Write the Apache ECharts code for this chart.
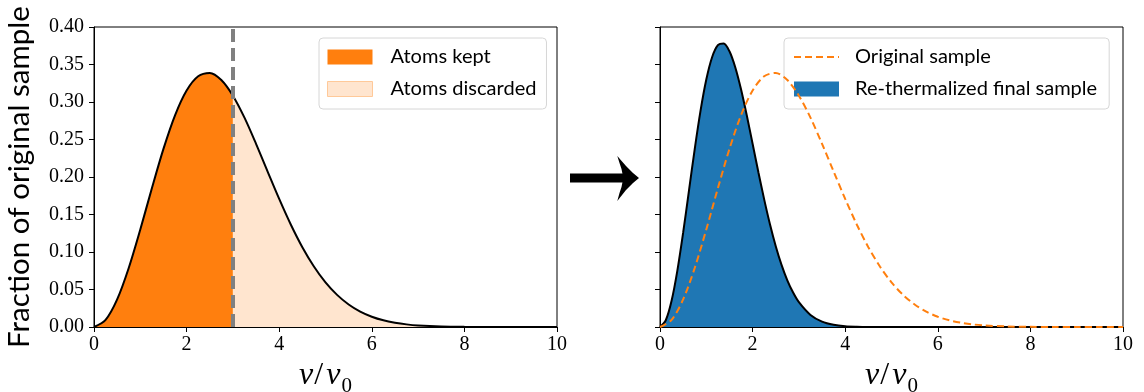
<!DOCTYPE html>
<html><head><meta charset="utf-8">
<script src="https://cdn.jsdelivr.net/npm/echarts@6/dist/echarts.min.js"></script>
<style>html,body{margin:0;padding:0;background:#fff}#chart{width:1144px;height:392px}</style>
</head><body><div id="chart"></div>
<script>
// ---- data ----
const speedGrid = [0,0.25,0.5,0.75,1,1.25,1.5,1.75,2,2.25,2.5,2.75,3,3.25,3.5,3.75,4,4.25,4.5,4.75,5,5.25,5.5,5.75,6,6.25,6.5,6.75,7,7.5,8,8.5,9,9.5,10];
const originalFraction = [0,0.0095,0.0368,0.0787,0.1300,0.1850,0.2375,0.2823,0.3154,0.3344,0.3388,0.3293,0.3084,0.2791,0.2442,0.2073,0.1708,0.1367,0.1064,0.0807,0.0595,0.0428,0.0300,0.0205,0.0137,0.0089,0.0057,0.0035,0.0021,0.0007,0.0002,0.0001,0,0,0];
const rethermSpeedGrid = [0,0.125,0.25,0.375,0.5,0.625,0.75,0.875,1,1.125,1.25,1.375,1.5,1.625,1.75,1.875,2,2.125,2.25,2.375,2.5,2.625,2.75,2.875,3,3.25,3.5,3.75,4,4.25,4.5,5,6,7,8,9,10];
const rethermFraction = [0,0.0090,0.0349,0.0752,0.1257,0.1815,0.2373,0.2881,0.3299,0.3596,0.3757,0.3780,0.3676,0.3463,0.3169,0.2819,0.2443,0.2064,0.1702,0.1370,0.1078,0.0829,0.0623,0.0459,0.0331,0.0161,0.0072,0.0030,0.0011,0.0004,0.0001,0,0,0,0,0,0];
const cutoffSpeed = 3;
const xTickValues = [0,2,4,6,8,10];
const yTickValues = [0,0.05,0.1,0.15,0.2,0.25,0.3,0.35,0.4];
const leftLegendLabels = ['Atoms kept','Atoms discarded'];
const rightLegendLabels = ['Original sample','Re-thermalized final sample'];
const yAxisTitle = 'Fraction of original sample';

// ---- styling ----
const ORANGE = '#ff7f0e', PEACH = '#ffe5cf', BLUE = '#1f77b4', GRAY = '#808080';
function fitSize(text, family, target){
  const c = document.createElement('canvas').getContext('2d');
  c.font = '100px ' + family;
  return 100 * target / c.measureText(text).width;
}
const legendSize = fitSize('Atoms discarded', 'Lato', 146);
const yTitleSize = fitSize(yAxisTitle, 'Lato', 342);

const pairs = (xs, ys) => xs.map((x, i) => [x, ys[i]]);
const original = pairs(speedGrid, originalFraction);
const kept = original.filter(p => p[0] <= cutoffSpeed);
const discarded = original.filter(p => p[0] >= cutoffSpeed);
const retherm = pairs(rethermSpeedGrid, rethermFraction);

const tickFont = {fontFamily:'Liberation Serif', fontSize:20, color:'#000'};
const xName = '{i|v}{s|/}{i|v}{b|0}';
const xNameStyle = {rich:{
  i:{fontFamily:'Liberation Serif', fontStyle:'italic', fontSize:32, color:'#000', verticalAlign:'bottom', padding:[0,0,5,0]},
  s:{fontFamily:'Liberation Serif', fontSize:32, color:'#000', verticalAlign:'bottom', padding:[0,3,5,1]},
  b:{fontFamily:'Liberation Serif', fontSize:21, color:'#000', verticalAlign:'bottom', padding:[0,0,0,1]}
}};

function xAxisFor(i){
  return {gridIndex:i, type:'value', min:xTickValues[0], max:xTickValues[xTickValues.length-1], interval:xTickValues[1]-xTickValues[0],
    axisLine:{show:true, onZero:false, lineStyle:{color:'#000', width:1}},
    axisTick:{show:true, length:5, lineStyle:{color:'#000', width:1}},
    axisLabel:Object.assign({margin:8, formatter:v=>String(v)}, tickFont),
    splitLine:{show:false},
    name:xName, nameLocation:'middle', nameGap:25, nameTextStyle:xNameStyle};
}
function yAxisFor(i){
  const a = {gridIndex:i, type:'value', min:yTickValues[0], max:yTickValues[yTickValues.length-1], interval:yTickValues[1]-yTickValues[0],
    axisLine:{show:true, onZero:false, lineStyle:{color:'#000', width:1}},
    axisTick:{show:true, length:5, lineStyle:{color:'#000', width:1}},
    axisLabel:Object.assign({show:i===0, margin:10, formatter:v=>v.toFixed(2)}, tickFont),
    splitLine:{show:false}};
  if(i===0){
    a.name = yAxisTitle; a.nameLocation='middle'; a.nameGap=60;
    a.nameTextStyle = {fontFamily:'Lato', fontSize:yTitleSize, color:'#000'};
  }
  return a;
}
const legendBase = {orient:'vertical', selectedMode:false, itemWidth:45, itemHeight:15, itemGap:12,
  backgroundColor:'rgba(255,255,255,0.8)', borderColor:'#d6d6d6', borderWidth:1, borderRadius:4};

const option = {
  animation:false,
  grid:[
    {left:94, top:27, width:463, height:300, outerBoundsMode:'none', containLabel:false, show:true, borderColor:'#000', borderWidth:1, backgroundColor:'transparent'},
    {left:660, top:27, width:463, height:300, outerBoundsMode:'none', containLabel:false, show:true, borderColor:'#000', borderWidth:1, backgroundColor:'transparent'}
  ],
  xAxis:[xAxisFor(0), xAxisFor(1)],
  yAxis:[yAxisFor(0), yAxisFor(1)],
  legend:[
    Object.assign({}, legendBase, {left:319, top:38, padding:[9,10,10,8],
      textStyle:{fontFamily:'Lato', fontSize:legendSize, color:'#000', padding:[0,0,0,13], lineHeight:20},
      data:[{name:leftLegendLabels[0], icon:'rect', itemStyle:{color:ORANGE, borderWidth:0}},
            {name:leftLegendLabels[1], icon:'rect', itemStyle:{color:PEACH, borderColor:'#ffc999', borderWidth:1}}]}),
    Object.assign({}, legendBase, {left:784, top:38, padding:[9,12,10,9],
      textStyle:{fontFamily:'Lato', fontSize:legendSize, color:'#000', padding:[0,0,0,11], lineHeight:20},
      data:[{name:rightLegendLabels[0], itemStyle:{opacity:0}, lineStyle:{width:2, type:[7,4], color:ORANGE}},
            {name:rightLegendLabels[1], icon:'rect', itemStyle:{color:BLUE, borderWidth:0}}]})
  ],
  series:[
    {name:leftLegendLabels[0], type:'line', xAxisIndex:0, yAxisIndex:0, data:kept, smooth:0.3, symbol:'none',
      lineStyle:{width:0}, itemStyle:{color:ORANGE}, areaStyle:{color:ORANGE, opacity:1}, z:1, silent:true},
    {name:leftLegendLabels[1], type:'line', xAxisIndex:0, yAxisIndex:0, data:discarded, smooth:0.3, symbol:'none',
      lineStyle:{width:0}, itemStyle:{color:PEACH}, areaStyle:{color:PEACH, opacity:1}, z:1, silent:true},
    {name:'Original distribution', type:'line', xAxisIndex:0, yAxisIndex:0, data:original, smooth:0.3, symbol:'none',
      lineStyle:{color:'#000', width:2}, itemStyle:{color:'#000'}, z:3, silent:true,
      markLine:{symbol:['none','none'], silent:true, label:{show:false}, animation:false,
        lineStyle:{color:GRAY, width:4, type:[13,6]}, emphasis:{disabled:true},
        data:[{xAxis:cutoffSpeed}]}},
    {name:rightLegendLabels[1], type:'line', xAxisIndex:1, yAxisIndex:1, data:retherm, smooth:0.3, symbol:'none',
      lineStyle:{color:'#000', width:2}, itemStyle:{color:BLUE}, areaStyle:{color:BLUE, opacity:1}, z:2, silent:true},
    {name:rightLegendLabels[0], type:'line', xAxisIndex:1, yAxisIndex:1, data:original, smooth:0.3, symbol:'none',
      lineStyle:{color:ORANGE, width:2, type:[7,4]}, itemStyle:{color:ORANGE}, z:4, silent:true}
  ],
  graphic:[
    {type:'rect', shape:{x:570, y:173.5, width:54, height:9}, style:{fill:'#000'}, silent:true},
    {type:'polygon', shape:{points:[[639,178],[633,173],[626,166],[617.3,156],[619.5,163],[621.5,169],[622.5,174],[622.8,178],[622.5,182],[621.5,187],[619.5,193],[617.3,201],[626,190],[633,183]]}, style:{fill:'#000'}, silent:true}
  ]
};
const chart = echarts.init(document.getElementById('chart'));
chart.setOption(option);
</script></body></html>
